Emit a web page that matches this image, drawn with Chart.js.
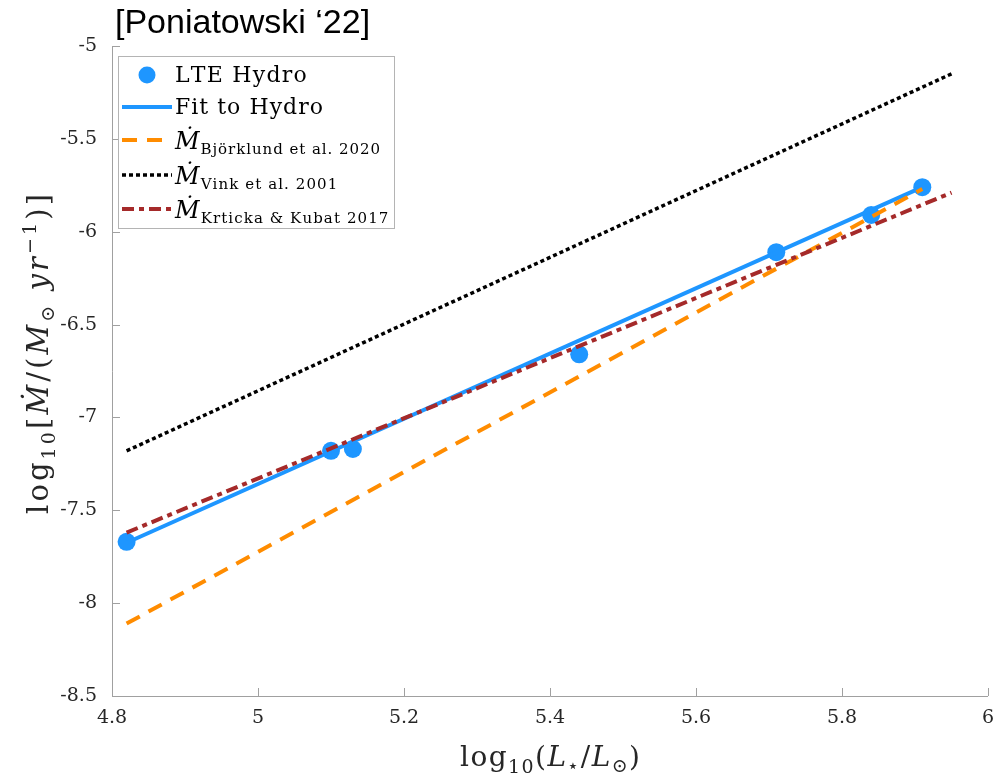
<!DOCTYPE html>
<html>
<head>
<meta charset="utf-8">
<script src="https://cdn.jsdelivr.net/npm/chart.js@4"></script>
<style>
  html, body { margin: 0; padding: 0; background: #fff; }
  canvas { display: block; }
</style>
</head>
<body>
<canvas id="chart" width="998" height="781"></canvas>
<script>
// values
const hydroX = [4.82, 5.10, 5.13, 5.44, 5.71, 5.84, 5.91];
const hydroY = [-7.67, -7.18, -7.17, -6.66, -6.11, -5.91, -5.76];
const fitX = [4.82, 5.91];
const fitY = [-7.675, -5.76];
const bjorklundX = [4.82, 5.91];
const bjorklundY = [-8.11, -5.77];
const vinkX = [4.82, 5.95];
const vinkY = [-7.18, -5.15];
const krtickaX = [4.82, 5.95];
const krtickaY = [-7.62, -5.79];

const xTicks = [4.8, 5, 5.2, 5.4, 5.6, 5.8, 6];
const xTickLabels = ['4.8', '5', '5.2', '5.4', '5.6', '5.8', '6'];
const yTicks = [-8.5, -8, -7.5, -7, -6.5, -6, -5.5, -5];
const yTickLabels = ['-8.5', '-8', '-7.5', '-7', '-6.5', '-6', '-5.5', '-5'];

const BLUE = 'rgb(30,150,255)';
const ORANGE = 'rgb(255,140,0)';
const BROWN = 'rgb(165,42,42)';
const AXIS = '#a0a0a0';
const SERIF = '"DejaVu Serif", "Liberation Serif", serif';

const pts = (xs, ys) => xs.map((x, i) => ({ x, y: ys[i] }));

const R = s => `${s}px ${SERIF}`;
const I = s => `italic ${s}px ${SERIF}`;

// draw text made of segments (font / vertical offset), optionally spread to a width
function drawRich(ctx, segs, x, y, align, target) {
  let w = 0, n = 0;
  for (const s of segs) {
    ctx.font = s.f;
    w += ctx.measureText(s.t).width;
    n += [...s.t].length;
  }
  const sp = target && n > 1 ? (target - w) / (n - 1) : 0;
  const total = target || w;
  let cx = align === 'center' ? x - total / 2 : x;
  ctx.textAlign = 'left';
  ctx.textBaseline = 'alphabetic';
  for (const s of segs) {
    ctx.font = s.f;
    for (const ch of s.t) {
      ctx.fillText(ch, cx, y + (s.dy || 0));
      cx += ctx.measureText(ch).width + sp;
    }
  }
}

const legendRows = [
  { y: 75, base: 82, width: 130, segs: [{ t: 'LTE Hydro', f: R(22) }] },
  { y: 107, base: 114, width: 148, segs: [{ t: 'Fit to Hydro', f: R(22) }] },
  { y: 140, base: 149, width: 205, segs: [{ t: 'Ṁ', f: I(24) }, { t: 'Björklund et al. 2020', f: R(15), dy: 5 }] },
  { y: 175, base: 184, width: 162, segs: [{ t: 'Ṁ', f: I(24) }, { t: 'Vink et al. 2001', f: R(15), dy: 5 }] },
  { y: 209, base: 218, width: 213, segs: [{ t: 'Ṁ', f: I(24) }, { t: 'Krticka & Kubat 2017', f: R(15), dy: 5 }] }
];

const decorations = {
  id: 'decorations',
  beforeDatasetsDraw(chart) {
    const { ctx, chartArea: a, scales: { x, y } } = chart;
    ctx.save();
    ctx.strokeStyle = AXIS;
    ctx.lineWidth = 1;
    ctx.beginPath();
    ctx.moveTo(a.left + 0.5, a.top);
    ctx.lineTo(a.left + 0.5, a.bottom + 0.5);
    ctx.lineTo(a.right, a.bottom + 0.5);
    for (const v of xTicks) {
      const px = Math.round(x.getPixelForValue(v)) + 0.5;
      ctx.moveTo(px, a.bottom);
      ctx.lineTo(px, a.bottom - 8);
    }
    for (const v of yTicks) {
      const py = Math.round(y.getPixelForValue(v)) + 0.5;
      ctx.moveTo(a.left, py);
      ctx.lineTo(a.left + 8, py);
    }
    ctx.stroke();
    ctx.restore();
  },
  afterDraw(chart) {
    const { ctx } = chart;
    ctx.save();
    ctx.fillStyle = '#000';
    // title
    ctx.font = '34px "Liberation Sans", Arial, sans-serif';
    ctx.textAlign = 'left';
    ctx.textBaseline = 'alphabetic';
    ctx.fillText('[Poniatowski \u201822]', 115, 33);

    ctx.fillStyle = '#262626';
    // x axis title
    drawRich(ctx, [
      { t: 'log', f: R(28) }, { t: '10', f: R(19), dy: 7 }, { t: '(', f: R(28) },
      { t: 'L', f: I(28) }, { t: '\u22c6', f: R(19), dy: 6 }, { t: '/', f: R(28) },
      { t: 'L', f: I(28) }, { t: '\u2299', f: R(19), dy: 6 }, { t: ')', f: R(28) }
    ], 550, 766, 'center', 180);

    // y axis title
    ctx.save();
    ctx.translate(40, 354);
    ctx.rotate(-Math.PI / 2);
    drawRich(ctx, [
      { t: 'log', f: R(29) }, { t: '10', f: R(19), dy: 7 }, { t: '[', f: R(29) },
      { t: 'Ṁ', f: I(29) }, { t: '/(', f: R(29) }, { t: 'M', f: I(29) },
      { t: '\u2299', f: R(19), dy: 6 }, { t: ' yr', f: I(29) },
      { t: '\u22121', f: R(19), dy: -12 }, { t: ')]', f: R(29) }
    ], 0, 8, 'center', 320);
    ctx.restore();

    // legend
    ctx.fillStyle = '#fff';
    ctx.fillRect(118, 56, 276, 172);
    ctx.strokeStyle = '#b4b4b4';
    ctx.lineWidth = 1;
    ctx.strokeRect(118.5, 56.5, 276, 172);
    const ds = chart.data.datasets;
    legendRows.forEach((row, i) => {
      const d = ds[i];
      if (i === 0) {
        ctx.fillStyle = d.backgroundColor;
        ctx.beginPath();
        ctx.arc(147, row.y, 8.5, 0, Math.PI * 2);
        ctx.fill();
      } else {
        ctx.save();
        ctx.strokeStyle = d.borderColor;
        ctx.lineWidth = d.borderWidth;
        ctx.setLineDash(d.borderDash || []);
        ctx.beginPath();
        ctx.moveTo(122, row.y);
        ctx.lineTo(172, row.y);
        ctx.stroke();
        ctx.restore();
      }
      ctx.fillStyle = '#000';
      drawRich(ctx, row.segs, 175, row.base, 'left', row.width);
    });
    ctx.restore();
  }
};

new Chart(document.getElementById('chart'), {
  type: 'scatter',
  data: {
    datasets: [
      { label: 'LTE Hydro', data: pts(hydroX, hydroY), showLine: false,
        pointRadius: 9, pointHoverRadius: 9, backgroundColor: BLUE, borderWidth: 0, order: 5 },
      { label: 'Fit to Hydro', data: pts(fitX, fitY), showLine: true, pointRadius: 0,
        borderColor: BLUE, borderWidth: 4, order: 4 },
      { label: 'Björklund et al. 2020', data: pts(bjorklundX, bjorklundY), showLine: true, pointRadius: 0,
        borderColor: ORANGE, borderWidth: 4, borderDash: [15, 10], order: 3 },
      { label: 'Vink et al. 2001', data: pts(vinkX, vinkY), showLine: true, pointRadius: 0,
        borderColor: '#000', borderWidth: 3.5, borderDash: [4, 3], order: 2 },
      { label: 'Krticka & Kubat 2017', data: pts(krtickaX, krtickaY), showLine: true, pointRadius: 0,
        borderColor: BROWN, borderWidth: 4, borderDash: [12, 5, 5, 5], order: 1 }
    ]
  },
  options: {
    responsive: false,
    devicePixelRatio: 1,
    animation: false,
    layout: { padding: { left: 0, top: 46, right: 10, bottom: 0 } },
    plugins: { legend: { display: false }, tooltip: { enabled: false } },
    scales: {
      x: {
        type: 'linear', min: 4.8, max: 6,
        afterFit: s => { s.height = 85; s.paddingLeft = 0; s.paddingRight = 0; },
        afterBuildTicks: s => { s.ticks = xTicks.map(v => ({ value: v })); },
        grid: { display: false, drawTicks: false },
        border: { display: false },
        ticks: {
          padding: 11, color: '#262626', font: { family: SERIF, size: 19 },
          callback: (v, i) => xTickLabels[i]
        }
      },
      y: {
        type: 'linear', min: -8.5, max: -5,
        afterFit: s => { s.width = 112; s.paddingTop = 0; s.paddingBottom = 0; },
        afterBuildTicks: s => { s.ticks = yTicks.map(v => ({ value: v })); },
        grid: { display: false, drawTicks: false },
        border: { display: false },
        ticks: {
          padding: 15, color: '#262626', font: { family: SERIF, size: 19 },
          callback: (v, i) => yTickLabels[i]
        }
      }
    }
  },
  plugins: [decorations]
});
</script>
</body>
</html>
